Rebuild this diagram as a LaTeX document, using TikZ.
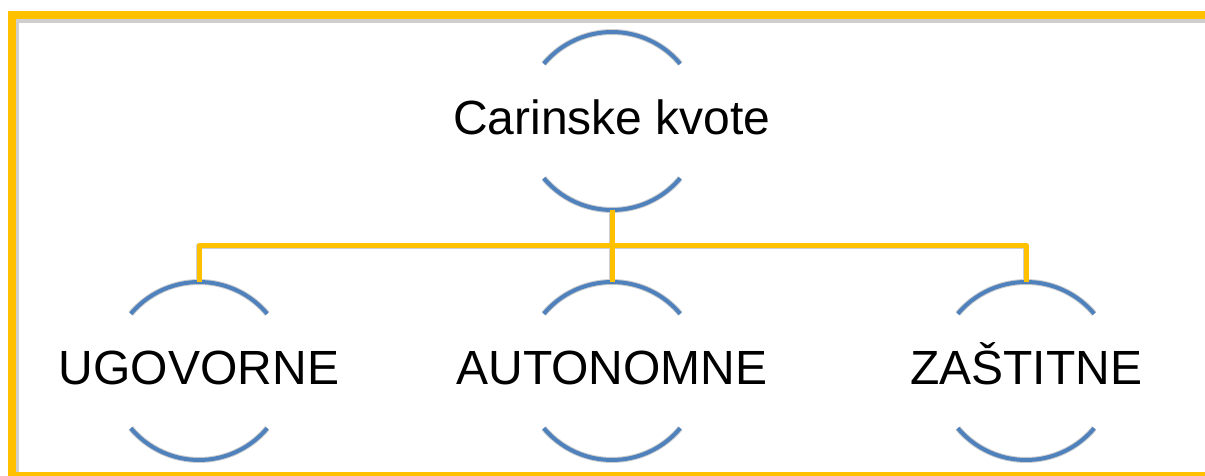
\documentclass[tikz,border=0pt]{standalone}
\usepackage{fontspec}
\setmainfont{Liberation Sans}
\usetikzlibrary{positioning}

\definecolor{kvotayellow}{HTML}{FFC000}
\definecolor{kvotablue}{HTML}{4F81BD}
\definecolor{kvotashade}{HTML}{CFCFCF}

\tikzset{
    kvota/.style={inner sep=0pt, text height=35pt, text depth=8pt, font=\fontsize{48}{58}\selectfont},
    arcline/.style={draw=kvotablue, line width=4pt},
    link/.style={draw=kvotayellow, line width=5pt, line join=round},
    shadeline/.style={draw=kvotashade, line width=6pt, line join=round},
}

\begin{document}
\begin{tikzpicture}[x=1pt, y=1pt]
    \useasboundingbox (0,0) rectangle (1205,476);
    \clip (0,0) rectangle (1205,476);

    % nodes
    \node[kvota] (kvote) at (612,355) {Carinske kvote};
    \node[kvota] (ugovorne) at (199,105) {UGOVORNE};
    \node[kvota] (autonomne) at (612,105) {AUTONOMNE};
    \node[kvota] (zastitne) at (1026,105) {ZAŠTITNE};
    \coordinate (bar) at (612,230);

    % shadows
    \begin{scope}[xshift=2pt, yshift=-3pt]
        \draw[shadeline, line width=10pt] (12,0) rectangle (1230,461);
        \foreach \n in {kvote, ugovorne, autonomne, zastitne} {
            \draw[shadeline] (\n.center) ++(140:89) arc (140:40:89);
            \draw[shadeline] (\n.center) ++(220:89) arc (220:320:89);
        }
        \draw[shadeline] ([yshift=89pt]ugovorne.center) |- (bar) -| ([yshift=89pt]zastitne.center);
        \draw[shadeline] ([yshift=-89pt]kvote.center) -- ([yshift=89pt]autonomne.center);
    \end{scope}

    % frame
    \draw[kvotayellow, line width=8pt] (12,0) rectangle (1230,461);

    % arcs round each node
    \foreach \n in {kvote, ugovorne, autonomne, zastitne} {
        \draw[arcline] (\n.center) ++(140:89) arc (140:40:89);
        \draw[arcline] (\n.center) ++(220:89) arc (220:320:89);
    }

    % connectors
    \draw[link] ([yshift=89pt]ugovorne.center) |- (bar) -| ([yshift=89pt]zastitne.center);
    \draw[link] ([yshift=-89pt]kvote.center) -- ([yshift=89pt]autonomne.center);
\end{tikzpicture}
\end{document}
